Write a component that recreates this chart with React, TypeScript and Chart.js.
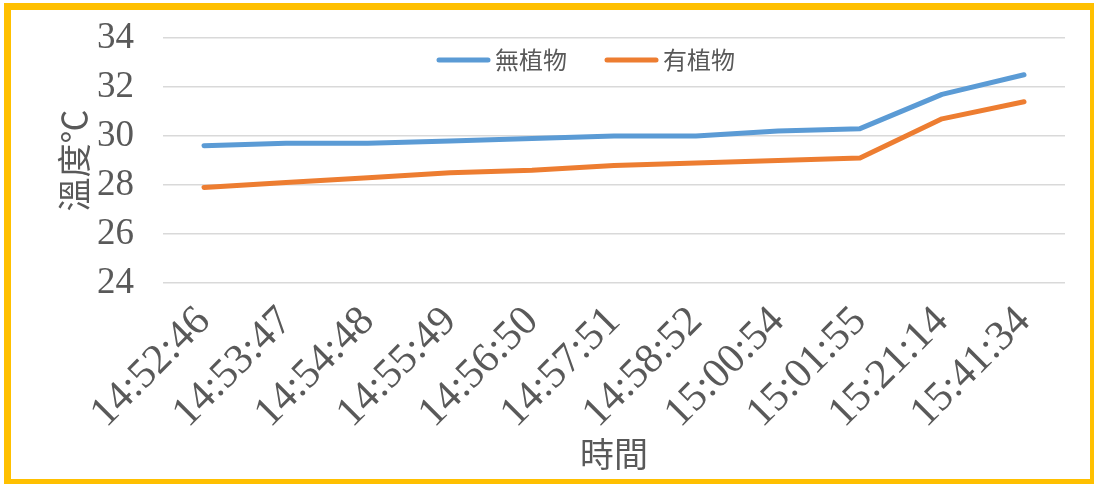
import React, { useEffect, useRef } from 'react';
import { Chart, registerables } from 'chart.js';

Chart.register(...registerables);

const categories = [
  '14:52:46', '14:53:47', '14:54:48', '14:55:49', '14:56:50', '14:57:51',
  '14:58:52', '15:00:54', '15:01:55', '15:21:14', '15:41:34',
];
const noPlant = [29.6, 29.7, 29.7, 29.8, 29.9, 30.0, 30.0, 30.2, 30.3, 31.7, 32.5];
const withPlant = [27.9, 28.1, 28.3, 28.5, 28.6, 28.8, 28.9, 29.0, 29.1, 30.7, 31.4];
const seriesNames = ['無植物', '有植物'];
const seriesColors = ['#5B9BD5', '#ED7D31'];
const yTitle = '溫度℃';
const xTitle = '時間';
const yMin = 24;
const yMax = 34;
const yStep = 2;

const TEXT = '#595959';
const CJK = '"Noto Sans CJK TC", "Noto Sans CJK SC", sans-serif';
const NUM = '"Liberation Serif", "DejaVu Serif", serif';

const overlayLegend = {
  id: 'overlayLegend',
  afterDraw(chart: any) {
    const { ctx, chartArea } = chart;
    ctx.save();
    ctx.font = `24px ${CJK}`;
    const lineLen = 53;
    const gap = 5;
    const itemGap = 38;
    const items = chart.data.datasets.map((ds: any) => ({
      label: ds.label,
      color: ds.borderColor,
      w: lineLen + gap + ctx.measureText(ds.label).width,
    }));
    const total = items.reduce((a: number, it: any) => a + it.w, 0) + itemGap * (items.length - 1);
    let x = (chartArea.left + chartArea.right) / 2 - 28 - total / 2;
    const y = chartArea.top + 22;
    items.forEach((it: any) => {
      ctx.strokeStyle = it.color;
      ctx.lineWidth = 5;
      ctx.lineCap = 'round';
      ctx.beginPath();
      ctx.moveTo(x + 2, y);
      ctx.lineTo(x + lineLen - 2, y);
      ctx.stroke();
      ctx.fillStyle = TEXT;
      ctx.textBaseline = 'middle';
      ctx.textAlign = 'left';
      ctx.fillText(it.label, x + lineLen + gap, y);
      x += it.w + itemGap;
    });
    ctx.restore();
  },
};

export default function App() {
  const canvasRef = useRef<HTMLCanvasElement | null>(null);

  useEffect(() => {
    if (!canvasRef.current) return;
    const chart = new Chart(canvasRef.current, {
      type: 'line',
      data: {
        labels: categories,
        datasets: [
          {
            label: seriesNames[0],
            data: noPlant,
            borderColor: seriesColors[0],
            backgroundColor: seriesColors[0],
            borderWidth: 5,
            pointRadius: 0,
            borderCapStyle: 'round',
            borderJoinStyle: 'round',
            tension: 0,
          },
          {
            label: seriesNames[1],
            data: withPlant,
            borderColor: seriesColors[1],
            backgroundColor: seriesColors[1],
            borderWidth: 5,
            pointRadius: 0,
            borderCapStyle: 'round',
            borderJoinStyle: 'round',
            tension: 0,
          },
        ],
      },
      options: {
        animation: false,
        responsive: true,
        maintainAspectRatio: false,
        layout: { padding: { left: 0, right: 25, top: 28, bottom: 0 } },
        plugins: {
          legend: { display: false },
          tooltip: { enabled: false },
        },
        scales: {
          x: {
            offset: true,
            grid: { display: false },
            border: { display: false },
            ticks: {
              color: TEXT,
              font: { family: NUM, size: 42 },
              maxRotation: 45,
              minRotation: 45,
              padding: 6,
              autoSkip: false,
            },
            title: {
              display: true,
              text: xTitle,
              color: TEXT,
              font: { family: CJK, size: 34 },
              padding: { top: 0, bottom: 5 },
            },
            afterFit: (s: any) => {
              s.height = 196;
            },
          },
          y: {
            min: yMin,
            max: yMax,
            border: { display: false },
            grid: { color: '#D9D9D9', lineWidth: 1.5, drawTicks: false },
            ticks: {
              stepSize: yStep,
              autoSkip: false,
              color: TEXT,
              font: { family: NUM, size: 37 },
              padding: 29,
            },
            title: {
              display: true,
              text: yTitle,
              color: TEXT,
              font: { family: CJK, size: 34 },
              padding: { top: 43, bottom: 0 },
            },
            afterFit: (s: any) => {
              s.width = 152;
              s.paddingTop = 0;
              s.paddingBottom = 0;
            },
          },
        },
      },
      plugins: [overlayLegend],
    });
    return () => chart.destroy();
  }, []);

  return (
    <div
      style={{
        position: 'absolute',
        left: 4,
        top: 3,
        width: 1093,
        height: 483,
        border: '7px solid #FFC000',
        boxSizing: 'border-box',
        background: '#fff',
      }}
    >
      <div style={{ position: 'relative', width: 1079, height: 469 }}>
        <canvas ref={canvasRef} />
      </div>
    </div>
  );
}
